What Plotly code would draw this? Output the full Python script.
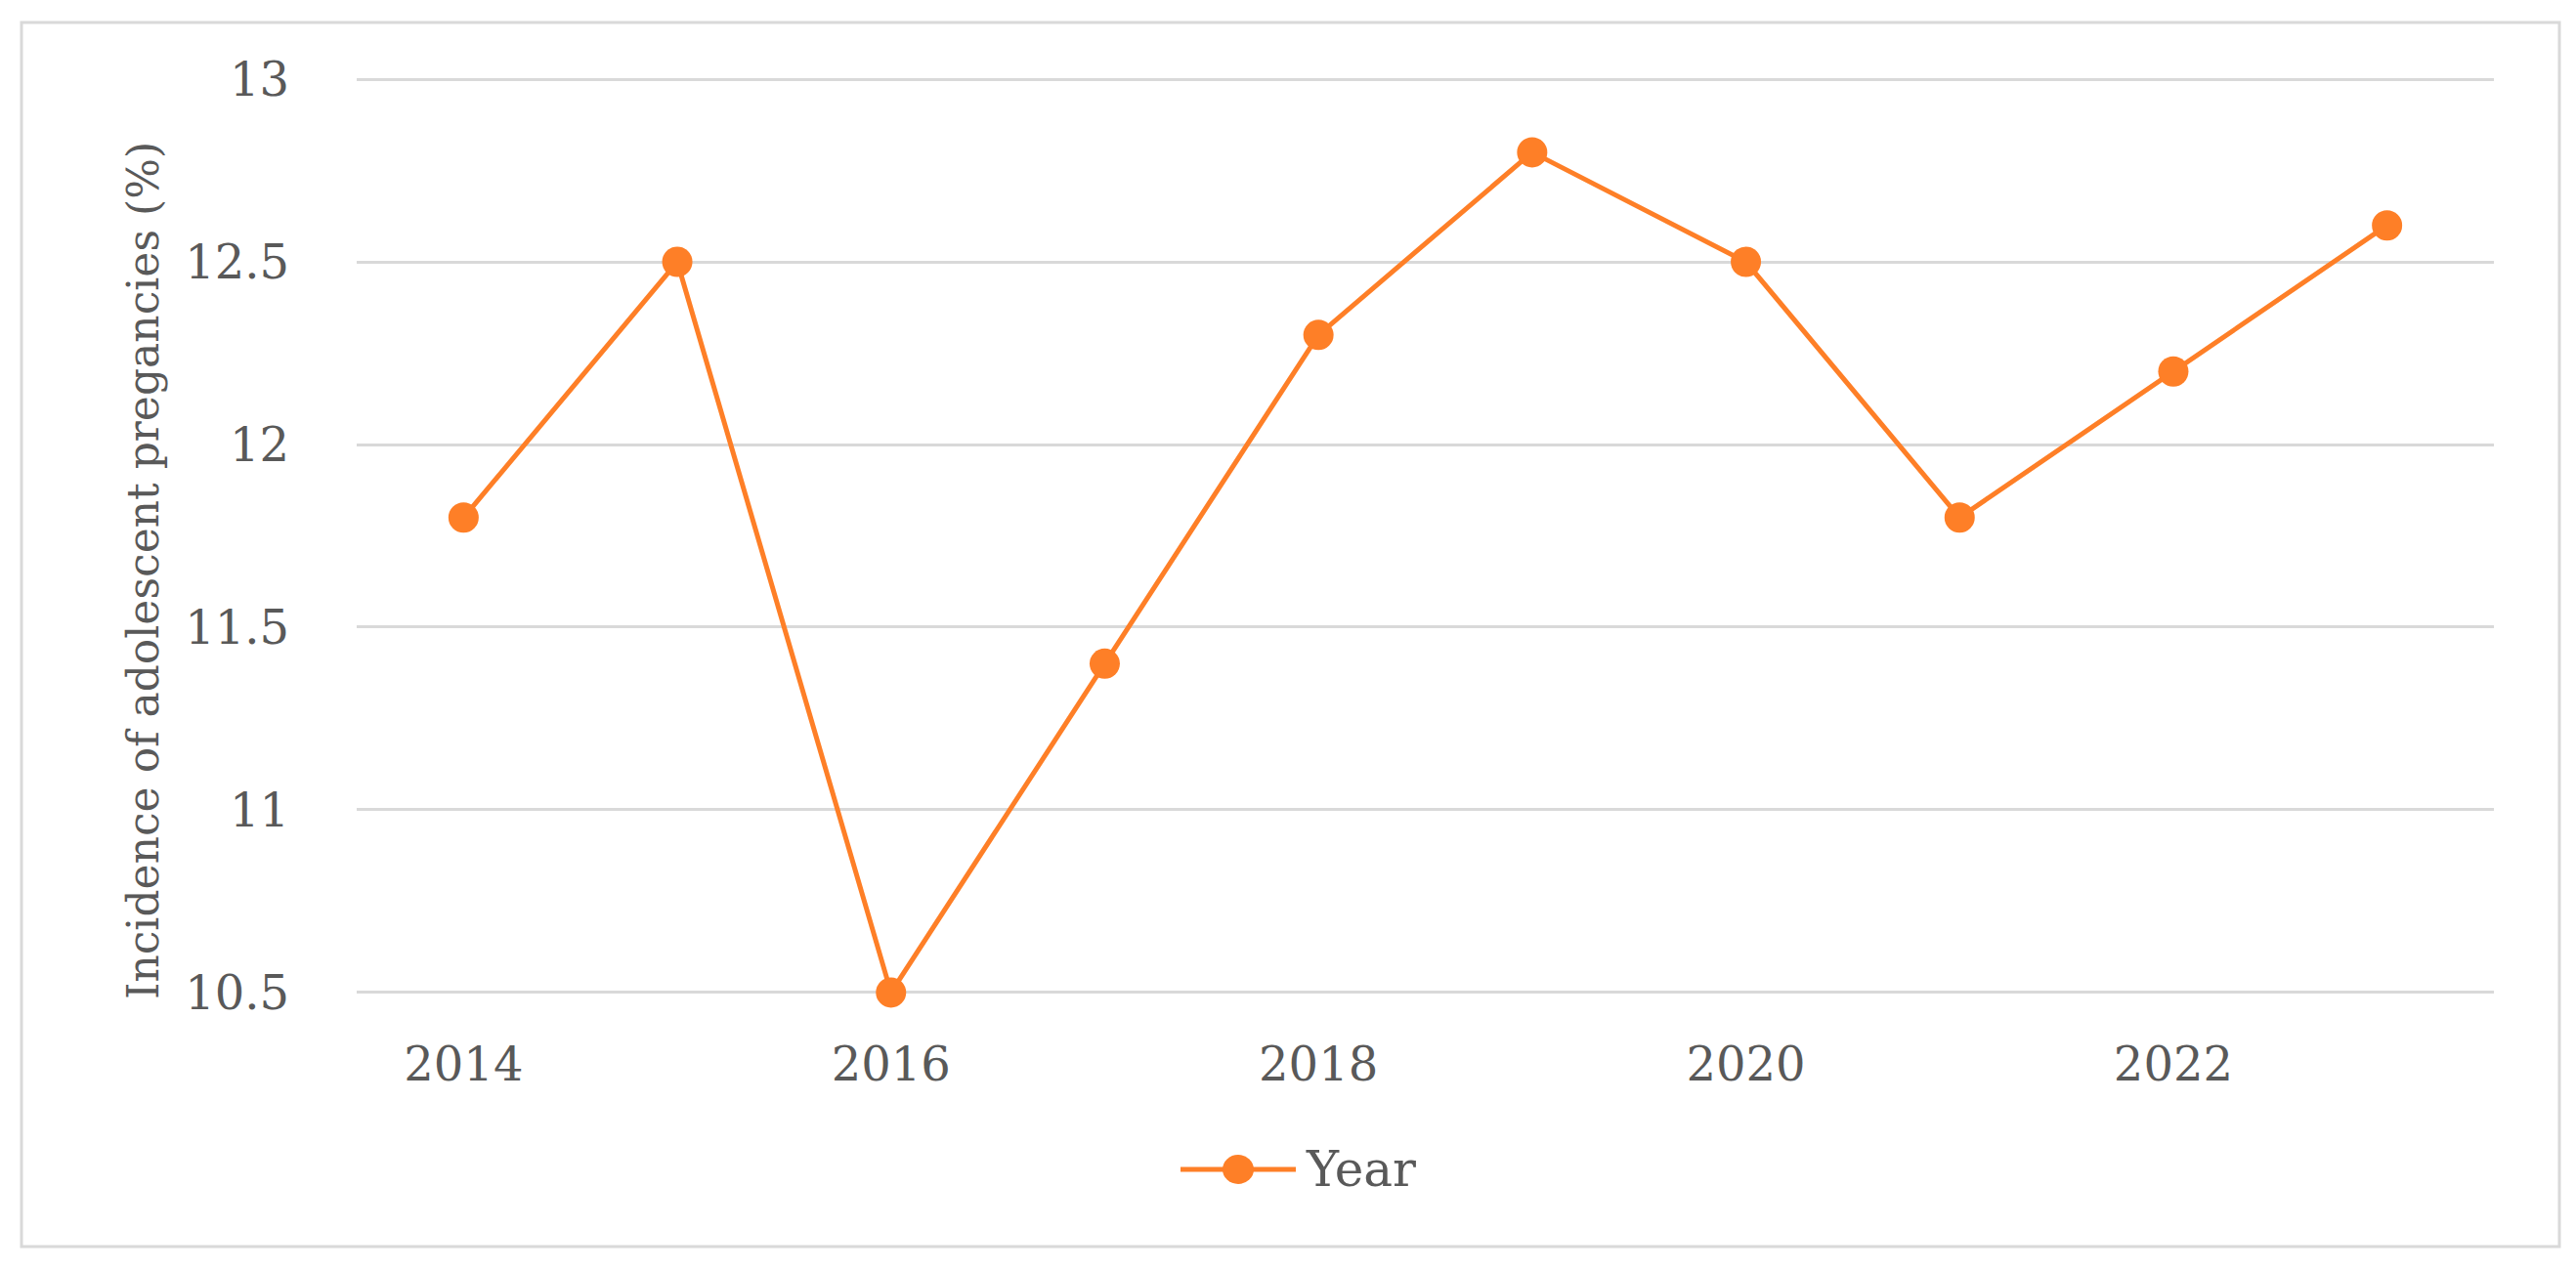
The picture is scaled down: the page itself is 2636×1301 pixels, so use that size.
import plotly.graph_objects as go

years = ["2014", "2015", "2016", "2017", "2018", "2019", "2020", "2021", "2022", "2023"]
incidence = [11.8, 12.5, 10.5, 11.4, 12.3, 12.8, 12.5, 11.8, 12.2, 12.6]
x_tick_labels = ["2014", "2016", "2018", "2020", "2022"]
y_ticks = [10.5, 11, 11.5, 12, 12.5, 13]
series_name = "Year"
y_title = "Incidence of adolescent pregancies (%)"

W, H = 2636, 1301
OFF = 8  # default page body margin offset
L, R, T, B = 365, 2552, 80, 1017  # plot area in reference pixels
pw, ph = R - L, B - T

def px(x):
    return (x - L) / pw

def py(y):
    return (B - y) / ph

ORANGE = "#FE7F27"
GRID = "#D9D9D9"
TEXT = "#595959"
FONT = "DejaVu Serif"

fig = go.Figure()
fig.add_trace(go.Scatter(
    x=years, y=incidence, name=series_name, mode="lines+markers",
    line=dict(color=ORANGE, width=5),
    marker=dict(color=ORANGE, size=31),
    cliponaxis=False, showlegend=False,
))

leg_y = py(1197)
fig.update_layout(
    width=W, height=H, autosize=False,
    margin=dict(l=L - OFF, r=W - (R - OFF), t=T - OFF, b=H - (B - OFF), pad=0),
    paper_bgcolor="white", plot_bgcolor="white",
    font=dict(family=FONT, color=TEXT, size=48),
    showlegend=False,
    xaxis=dict(
        type="category", range=[-0.5, len(years) - 0.5],
        tickmode="array", tickvals=x_tick_labels, ticktext=x_tick_labels,
        showgrid=False, showline=False, zeroline=False, ticks="",
        tickfont=dict(family=FONT, size=48, color=TEXT), ticklabelstandoff=40,
        fixedrange=True,
    ),
    yaxis=dict(
        range=[10.497, 13.003], tickmode="array", tickvals=y_ticks,
        ticktext=[f"{v:g}" for v in y_ticks],
        showgrid=True, gridcolor=GRID, gridwidth=3, zeroline=False, showline=False, ticks="",
        tickfont=dict(family=FONT, size=48, color=TEXT), ticklabelstandoff=68,
        fixedrange=True,
    ),
    annotations=[
        dict(
            text=y_title, textangle=-90, xref="paper", yref="paper",
            x=px(146), y=py(584), xanchor="center", yanchor="middle", showarrow=False,
            font=dict(family=FONT, size=44, color=TEXT),
        ),
        dict(
            text=series_name, xref="paper", yref="paper",
            x=px(1334), y=leg_y, xanchor="left", yanchor="middle", showarrow=False,
            font=dict(family=FONT, size=50, color=TEXT),
        ),
    ],
    shapes=[
        dict(
            type="rect", xref="paper", yref="paper", layer="below",
            x0=px(22), x1=px(2619), y0=py(1276), y1=py(23),
            line=dict(color=GRID, width=3), fillcolor="rgba(0,0,0,0)",
        ),
        dict(
            type="line", xref="paper", yref="paper",
            x0=px(1208), x1=px(1326), y0=leg_y, y1=leg_y,
            line=dict(color=ORANGE, width=5),
        ),
        dict(
            type="circle", xref="paper", yref="paper",
            xsizemode="pixel", ysizemode="pixel",
            xanchor=px(1267), yanchor=leg_y,
            x0=-16, x1=16, y0=-15, y1=15,
            line=dict(color=ORANGE, width=0), fillcolor=ORANGE,
        ),
    ],
)

fig.write_html("out.html")
